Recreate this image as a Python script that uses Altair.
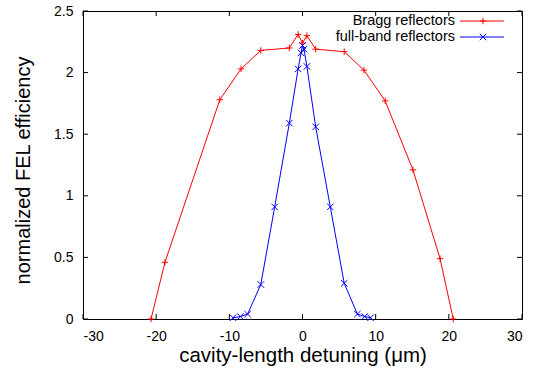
import altair as alt
import pandas as pd

# ---- data ----
bragg_x = [-20.7, -18.8, -11.3, -8.4, -5.7, -1.8, -0.6, 0.0, 0.6, 1.8, 5.7, 8.4, 11.3, 15.1, 18.8, 20.6]
bragg_y = [0.0, 0.46, 1.78, 2.03, 2.18, 2.20, 2.31, 2.24, 2.30, 2.19, 2.17, 2.02, 1.77, 1.21, 0.49, 0.0]

full_x = [-9.5, -8.5, -7.5, -5.7, -3.8, -1.8, -0.6, -0.2, 0.0, 0.2, 0.6, 1.8, 3.8, 5.7, 7.5, 8.5, 9.3]
full_y = [0.01, 0.02, 0.04, 0.28, 0.91, 1.59, 2.03, 2.16, 2.22, 2.19, 2.05, 1.56, 0.91, 0.29, 0.04, 0.02, 0.01]

series_names = ["Bragg reflectors", "full-band reflectors"]
colors = ["#ff0000", "#0000ff"]
x_ticks = [-30, -20, -10, 0, 10, 20, 30]
y_ticks = [0, 0.5, 1, 1.5, 2, 2.5]

PLUS = "M-1,0L1,0M0,-1L0,1"
CROSS = "M-1,-1L1,1M-1,1L1,-1"
shapes = [PLUS, CROSS]

FONT = "Liberation Sans"
W, H = 439, 308

df = pd.concat([
    pd.DataFrame({"x": bragg_x, "y": bragg_y, "series": series_names[0]}),
    pd.DataFrame({"x": full_x, "y": full_y, "series": series_names[1]}),
])

xs = alt.Scale(domain=[-30, 30], nice=False, zero=False)
ys = alt.Scale(domain=[0, 2.5], nice=False, zero=False)
color = alt.Color("series:N", scale=alt.Scale(domain=series_names, range=colors), legend=None)
shape = alt.Shape("series:N", scale=alt.Scale(domain=series_names, range=shapes), legend=None)

x_axis = alt.Axis(values=x_ticks, labelExpr="'' + datum.value", domain=False, ticks=False, grid=False,
                  labelFont=FONT, labelFontSize=14, labelColor="black", labelPadding=10,
                  title="cavity-length detuning (μm)", titleFont=FONT, titleFontSize=20.5,
                  titleFontWeight="normal", titleColor="black", titleX=W / 2, titleY=36,
                  titleBaseline="middle", titleAlign="center")
y_axis = alt.Axis(values=y_ticks, labelExpr="'' + datum.value", domain=False, ticks=False, grid=False,
                  labelFont=FONT, labelFontSize=14, labelColor="black", labelPadding=10,
                  title="normalized FEL efficiency", titleFont=FONT, titleFontSize=20,
                  titleFontWeight="normal", titleColor="black", titleX=-60, titleY=H / 2 + 5,
                  titleAngle=270, titleBaseline="middle", titleAlign="center")

base = alt.Chart(df)
lines = base.mark_line(strokeWidth=1, clip=True).encode(
    x=alt.X("x:Q", scale=xs, axis=x_axis),
    y=alt.Y("y:Q", scale=ys, axis=y_axis),
    color=color,
    detail="series:N",
)
points = base.mark_point(filled=False, strokeWidth=1, size=42, opacity=1).encode(
    x=alt.X("x:Q", scale=xs),
    y=alt.Y("y:Q", scale=ys),
    color=color,
    shape=shape,
)

# inward (gnuplot-style) mirrored ticks
xt = pd.DataFrame({"x": x_ticks})
yt = pd.DataFrame({"y": y_ticks})
TL = 5
tick_bottom = alt.Chart(xt).mark_rule(color="black", strokeWidth=1).encode(
    x=alt.X("x:Q", scale=xs), y=alt.value(H), y2=alt.value(H - TL))
tick_top = alt.Chart(xt).mark_rule(color="black", strokeWidth=1).encode(
    x=alt.X("x:Q", scale=xs), y=alt.value(0), y2=alt.value(TL))
tick_left = alt.Chart(yt).mark_rule(color="black", strokeWidth=1).encode(
    y=alt.Y("y:Q", scale=ys), x=alt.value(0), x2=alt.value(TL))
tick_right = alt.Chart(yt).mark_rule(color="black", strokeWidth=1).encode(
    y=alt.Y("y:Q", scale=ys), x=alt.value(W), x2=alt.value(W - TL))

# gnuplot-style key (text right-aligned, sample on the right)
legend_layers = []
for i, name in enumerate(series_names):
    yy = 10 + 16 * i
    ld = pd.DataFrame({"series": [name]})
    legend_layers.append(alt.Chart(ld).mark_text(align="right", baseline="middle", font=FONT,
                                                 fontSize=14.5, color="black").encode(
        x=alt.value(372), y=alt.value(yy), text="series:N"))
    legend_layers.append(alt.Chart(ld).mark_rule(color=colors[i], strokeWidth=1).encode(
        x=alt.value(377), x2=alt.value(421), y=alt.value(yy)))
    legend_layers.append(alt.Chart(ld).mark_point(shape=shapes[i], filled=False, strokeWidth=1,
                                                  size=42, opacity=1, color=colors[i]).encode(
        x=alt.value(400), y=alt.value(yy)))

chart = alt.layer(lines, points, tick_bottom, tick_top, tick_left, tick_right, *legend_layers).properties(
    width=W, height=H,
    autosize=alt.AutoSizeParams(type="none"),
    padding={"left": 83, "top": 11, "right": 21, "bottom": 50},
    background="white",
).configure_view(stroke="black", strokeWidth=1)

chart.save("out.html", embed_options={"renderer": "svg", "actions": False})
